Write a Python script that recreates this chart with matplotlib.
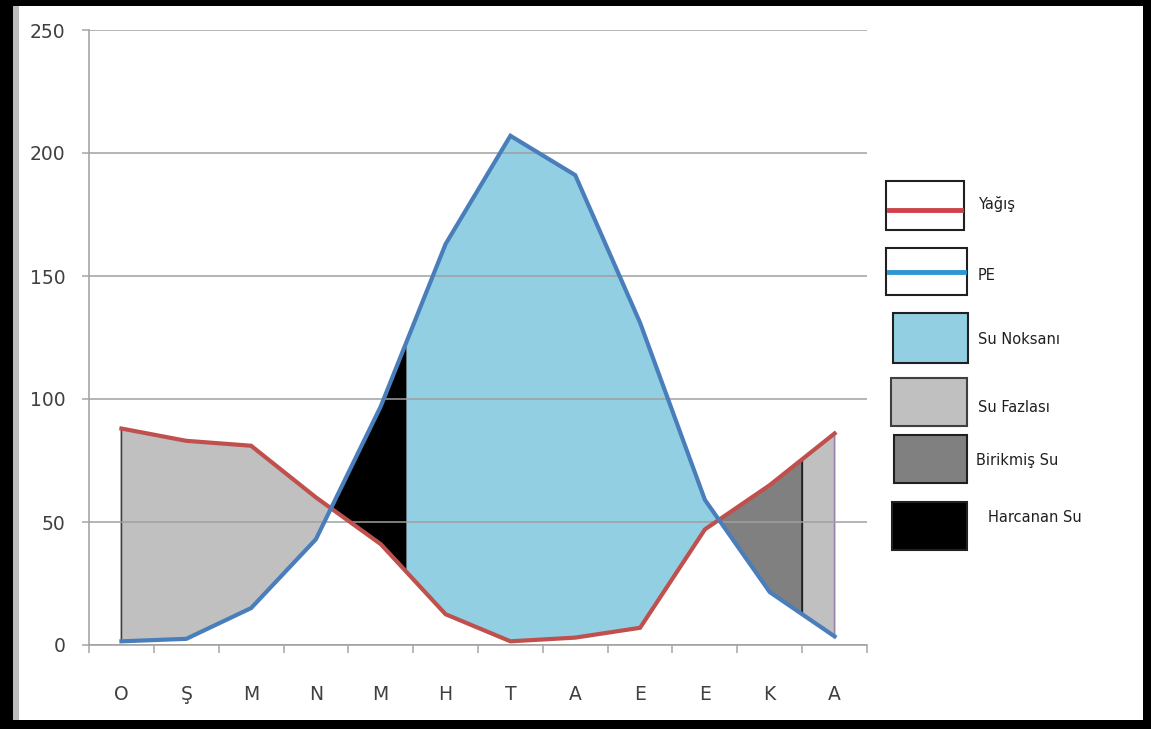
import numpy as np
import matplotlib
matplotlib.use("Agg")
import matplotlib.pyplot as plt
from matplotlib.patches import Polygon, Rectangle
from matplotlib.lines import Line2D

months = ["O", "Ş", "M", "N", "M", "H", "T", "A", "E", "E", "K", "A"]
yagis = [88, 83, 81, 60, 41, 12.5, 1.5, 3, 7, 47, 65, 86]     # precipitation
pe = [1.5, 2.5, 15, 43, 97, 163, 207, 191, 131, 59, 21.5, 3.5]  # potential evapotranspiration
harcanan_end = 4.4   # end of "Harcanan Su" band
birikmis_end = 10.5  # end of "Birikmiş Su" band

x = np.arange(len(months))
red = np.array(yagis)
blue = np.array(pe)


def crossing(i):
    d = red - blue
    return i + d[i] / (d[i] - d[i + 1])


def band(x0, x1, top, bot):
    xs = np.r_[x0, x[(x > x0) & (x < x1)], x1]
    t = np.interp(xs, x, top)
    b = np.interp(xs, x, bot)
    return np.column_stack([np.r_[xs, xs[::-1]], np.r_[t, b[::-1]]])


W, H = 1151, 729
fig = plt.figure(figsize=(W / 100, H / 100), dpi=100)
ax = fig.add_axes([89 / W, 1 - 645 / H, (867 - 89) / W, (645 - 30) / H])

c1 = crossing(3)
c2 = crossing(9)

fazla = "#c0c0c0"
noksan = "#93cfe2"
birik = "#808080"

ax.add_patch(Polygon(band(0, c1, red, blue), closed=True, facecolor=fazla,
                     edgecolor="#404040", lw=1.2, zorder=1))
ax.add_patch(Polygon(band(c1, harcanan_end, blue, red), closed=True, facecolor="black",
                     edgecolor="none", zorder=1))
ax.add_patch(Polygon(band(harcanan_end, c2, blue, red), closed=True, facecolor=noksan,
                     edgecolor="none", zorder=1))
ax.add_patch(Polygon(band(birikmis_end, x[-1], red, blue), closed=True, facecolor=fazla,
                     edgecolor="#9a80aa", lw=1.2, zorder=1))
ax.add_patch(Polygon(band(c2, birikmis_end, red, blue), closed=True, facecolor=birik,
                     edgecolor="#202020", lw=1.4, zorder=1.1))

ax.plot(x, red, color="#c0504d", lw=3, zorder=3, solid_joinstyle="miter")
ax.plot(x, blue, color="#4a7ebb", lw=3, zorder=3, solid_joinstyle="miter")

ax.set_xlim(-0.5, 11.5)
ax.set_ylim(0, 250)
ax.set_yticks(np.arange(0, 251, 50))
ax.set_axisbelow(False)
ax.yaxis.grid(True, color="#a0a0a0", lw=1.1, zorder=2)
for s in ["top", "right"]:
    ax.spines[s].set_visible(False)
for s in ["left", "bottom"]:
    ax.spines[s].set_color("#a6a6a6")
    ax.spines[s].set_linewidth(1.2)

ax.set_xticks(np.arange(-0.5, 12, 1))
ax.set_xticklabels([])
ax.set_xticks(x, minor=True)
ax.set_xticklabels(months, minor=True)
ax.tick_params(axis="x", which="major", length=6, width=1.1, color="#a6a6a6")
ax.tick_params(axis="x", which="minor", length=0, pad=29, labelsize=13.5, labelcolor="#404040")
ax.tick_params(axis="y", length=5, width=1.1, color="#a6a6a6", pad=12, labelsize=13.5,
               labelcolor="#404040")

# legend drawn in figure pixels
def fx(px):
    return px / W


def fy(py):
    return 1 - py / H


def box(x0, y0, x1, y1, fc, ec="#202020", lw=1.5):
    fig.add_artist(Rectangle((fx(x0), fy(y1)), fx(x1) - fx(x0), fy(y0) - fy(y1),
                             facecolor=fc, edgecolor=ec, lw=lw, transform=fig.transFigure))


def label(px, py, s):
    fig.text(fx(px), fy(py), s, fontsize=10.5, color="#202020", va="center", ha="left")


box(886, 181, 964, 230, "white")
fig.add_artist(Line2D([fx(889), fx(961)], [fy(210), fy(210)], color="#d0404a", lw=3.5,
                      transform=fig.transFigure))
label(978, 204, "Yağış")

box(886, 248, 967, 295, "white")
fig.add_artist(Line2D([fx(889), fx(964)], [fy(272), fy(272)], color="#2e95d3", lw=3.5,
                      transform=fig.transFigure))
label(978, 275, "PE")

box(893, 313, 968, 363, noksan)
label(978, 339, "Su Noksanı")
box(891, 378, 967, 426, fazla, ec="#404040")
label(978, 407, "Su Fazlası")
box(894, 435, 967, 483, birik)
label(976, 460, "Birikmiş Su")
box(892, 502, 967, 550, "black")
label(988, 518, "Harcanan Su")

# outer frame
fig.add_artist(Rectangle((fx(13), fy(720)), fx(19) - fx(13), fy(6) - fy(720), facecolor="#bdbdbd",
                         edgecolor="none", transform=fig.transFigure))
for (x0, y0, x1, y1) in [(0, 0, 13, H), (0, 0, W, 6), (1143, 0, W, H), (0, 720, W, H)]:
    fig.add_artist(Rectangle((fx(x0), fy(y1)), fx(x1) - fx(x0), fy(y0) - fy(y1),
                             facecolor="black", edgecolor="none", transform=fig.transFigure))

fig.savefig("out.png", dpi=100)
